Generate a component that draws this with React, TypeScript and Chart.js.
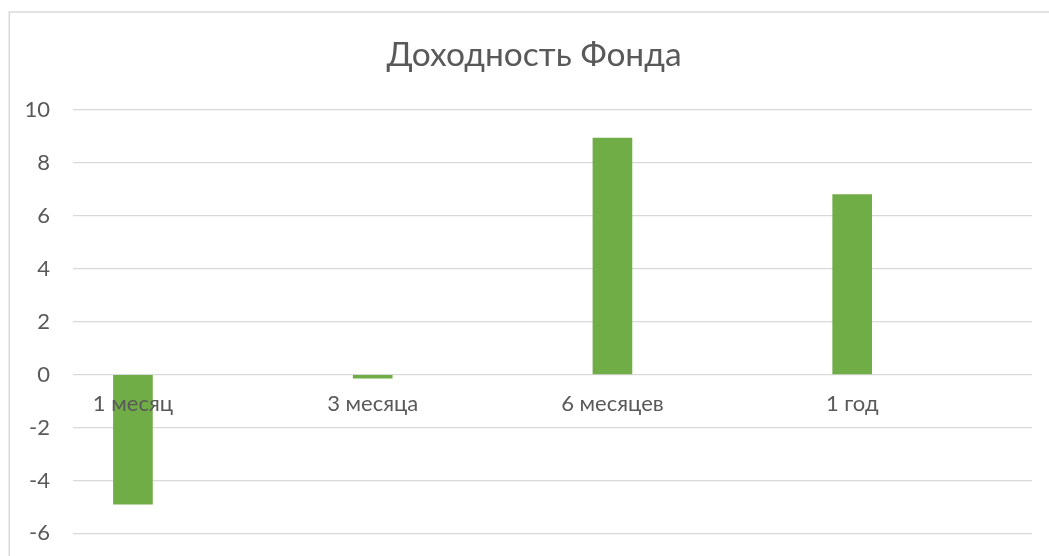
import { useEffect, useRef } from 'react';
import { Chart, registerables } from 'chart.js';

Chart.register(...registerables);

const categories: string[] = ['1 месяц', '3 месяца', '6 месяцев', '1 год'];
const returns: number[] = [-4.9, -0.13, 8.94, 6.8];
const yMin = -6;
const yMax = 10;
const yStep = 2;
const titleText = 'Доходность Фонда';

const TEXT = '#595959';
const GRID = '#d9d9d9';
const BAR = '#70ad47';
const FONT = 'Lato, "Open Sans", sans-serif';

const borderPlugin = {
  id: 'outerBorder',
  beforeDraw(chart: any) {
    const ctx = chart.ctx;
    ctx.save();
    ctx.fillStyle = '#ffffff';
    ctx.fillRect(0, 0, chart.width, chart.height);
    ctx.strokeStyle = GRID;
    ctx.lineWidth = 1.5;
    ctx.strokeRect(9.25, 12, 3000, 3000);
    ctx.restore();
  },
};

// Excel centres the title over the whole chart object; shift Chart.js' title box to match.
const titleShiftPlugin = {
  id: 'titleShift',
  afterLayout(chart: any) {
    const t = chart.titleBlock;
    if (t) {
      t.left = 36;
      t.right = chart.width - 17;
    }
  },
};

export default function App() {
  const ref = useRef<HTMLCanvasElement>(null);
  useEffect(() => {
    const chart = new Chart(ref.current as HTMLCanvasElement, {
      type: 'bar',
      data: {
        datasets: [
          {
            label: 'Доходность',
            data: returns.map((v, i) => ({ x: i, y: v })),
            backgroundColor: BAR,
            borderWidth: 0,
            barThickness: 39,
          },
        ],
      },
      options: {
        animation: false,
        responsive: true,
        maintainAspectRatio: false,
        layout: { padding: { left: 0, right: 17, top: 0, bottom: 22.6 } },
        plugins: {
          legend: { display: false },
          tooltip: { enabled: false },
          title: {
            display: true,
            text: titleText,
            color: TEXT,
            font: { family: FONT, size: 33.5, weight: 'normal', lineHeight: 1.2 },
            padding: { top: 34.9, bottom: 34.9 },
          },
        },
        scales: {
          x: {
            type: 'linear',
            min: -0.25,
            max: categories.length - 0.25,
            offset: false,
            position: { y: 0 } as any,
            grid: { display: false, drawTicks: false },
            border: { display: false },
            afterBuildTicks: (s: any) => {
              s.ticks = categories.map((_, i) => ({ value: i }));
            },
            ticks: {
              z: 1,
              autoSkip: false,
              maxRotation: 0,
              padding: 16,
              color: TEXT,
              font: { family: FONT, size: 22 },
              callback: (v: any) => (categories[v] !== undefined ? categories[v] : ''),
            },
          },
          y: {
            min: yMin,
            max: yMax,
            grid: { color: GRID, lineWidth: 1.3, drawTicks: true, tickLength: 23, tickColor: 'rgba(0,0,0,0)' },
            border: { display: false },
            ticks: {
              stepSize: yStep,
              padding: 0,
              color: TEXT,
              font: { family: FONT, size: 22 },
            },
            afterFit: (s: any) => {
              s.width = 73;
            },
          },
        },
      } as any,
      plugins: [borderPlugin, titleShiftPlugin],
    });
    return () => chart.destroy();
  }, []);
  return (
    <div style={{ position: 'fixed', left: 0, top: 0, width: 1049, height: 556, background: '#fff' }}>
      <canvas ref={ref} />
    </div>
  );
}
